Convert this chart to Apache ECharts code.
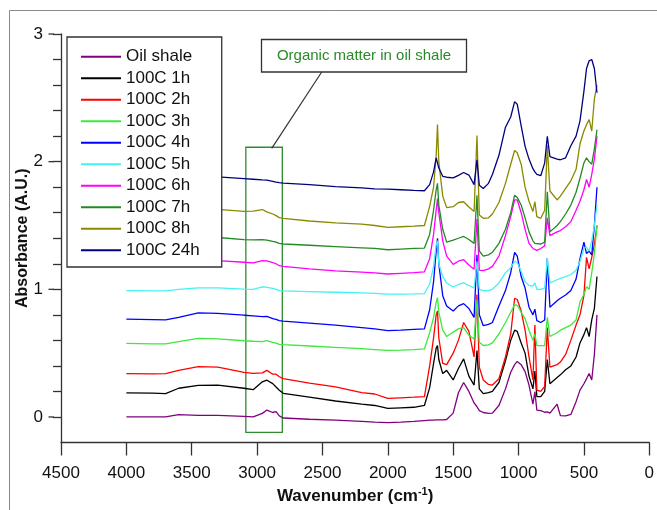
<!DOCTYPE html>
<html><head><meta charset="utf-8">
<script src="https://cdn.jsdelivr.net/npm/echarts@6/dist/echarts.min.js"></script>
<style>html,body{margin:0;padding:0;background:#fff}#c{width:657px;height:510px}</style>
</head><body><div id="c"></div>
<script>
// ---- data ----
const wavenumbers = [4000,3800,3700,3600,3450,3300,3100,3030,2960,2925,2880,2855,2830,2800,2600,2400,2200,2100,2000,1900,1800,1720,1680,1650,1630,1620,1610,1580,1550,1500,1460,1420,1380,1340,1318,1300,1270,1230,1200,1150,1100,1060,1030,1010,980,950,920,890,875,860,830,800,780,760,705,680,640,600,560,530,500,480,460,440,420,400];

const oilShale = [0.0,0.0,0.0,0.018,0.012,0.012,0.005,0.0,0.028,0.054,
  0.035,0.042,0.008,-0.008,-0.018,-0.025,-0.035,-0.04,-0.044,-0.04,
  -0.035,-0.028,-0.025,-0.024,-0.023,-0.023,-0.022,-0.022,-0.02,0.03,
  0.19,0.27,0.20,0.11,0.08,0.05,0.035,0.028,0.03,0.09,
  0.22,0.35,0.41,0.435,0.41,0.355,0.25,0.10,0.197,0.054,
  0.05,0.037,0.04,0.03,0.10,0.01,0.008,0.02,0.12,0.21,
  0.26,0.30,0.34,0.29,0.49,0.80];
const h1 = [0.189,0.186,0.183,0.225,0.248,0.25,0.225,0.214,0.275,0.288,
  0.261,0.235,0.21,0.185,0.155,0.125,0.10,0.09,0.067,0.072,
  0.076,0.09,0.23,0.42,0.54,0.56,0.45,0.34,0.365,0.29,
  0.38,0.455,0.32,0.25,0.52,0.22,0.183,0.19,0.20,0.27,
  0.44,0.60,0.68,0.67,0.58,0.50,0.32,0.22,0.36,0.16,
  0.16,0.20,0.45,0.26,0.31,0.33,0.37,0.40,0.47,0.58,
  0.645,0.70,0.63,0.76,0.85,1.10];
const h2 = [0.339,0.338,0.339,0.365,0.395,0.391,0.35,0.342,0.345,0.365,
  0.335,0.335,0.315,0.30,0.265,0.235,0.19,0.18,0.145,0.15,
  0.155,0.16,0.40,0.62,0.80,0.83,0.62,0.42,0.41,0.50,
  0.60,0.74,0.67,0.47,0.96,0.39,0.29,0.255,0.25,0.30,
  0.47,0.65,0.93,0.92,0.83,0.68,0.47,0.29,0.72,0.21,
  0.20,0.24,0.70,0.39,0.41,0.43,0.49,0.60,0.72,0.80,
  0.95,1.25,1.16,1.25,1.35,1.50];
const h3 = [0.577,0.572,0.572,0.59,0.615,0.612,0.597,0.593,0.59,0.598,
  0.585,0.578,0.568,0.566,0.556,0.545,0.535,0.528,0.521,0.524,
  0.528,0.533,0.66,0.78,0.90,0.935,0.82,0.68,0.63,0.665,
  0.69,0.70,0.64,0.61,0.92,0.585,0.56,0.565,0.58,0.65,
  0.74,0.82,0.88,0.875,0.82,0.77,0.68,0.60,0.65,0.56,
  0.559,0.56,0.78,0.63,0.66,0.68,0.70,0.72,0.76,0.90,
  0.96,1.02,1.00,1.13,1.28,1.50];
const h4 = [0.766,0.762,0.760,0.78,0.815,0.812,0.797,0.792,0.786,0.788,
  0.77,0.765,0.755,0.75,0.735,0.72,0.70,0.69,0.676,0.68,
  0.686,0.69,0.84,1.06,1.30,1.40,1.20,0.95,0.87,0.83,
  0.87,0.888,0.85,0.78,1.271,0.80,0.715,0.725,0.74,0.87,
  0.99,1.13,1.29,1.26,1.10,1.01,0.86,0.80,0.844,0.754,
  0.74,0.76,1.245,0.86,0.91,0.93,0.955,0.99,1.08,1.24,
  1.37,1.28,1.30,1.27,1.50,1.80];
const h5 = [0.99,0.988,0.988,1.00,1.012,1.012,1.002,0.999,1.02,1.015,
  1.008,1.0,0.99,0.987,0.982,0.977,0.972,0.968,0.962,0.963,
  0.965,0.967,1.04,1.18,1.35,1.38,1.20,1.10,1.05,1.018,
  1.038,1.05,1.03,1.01,1.22,1.0,0.99,0.99,1.0,1.05,
  1.13,1.17,1.22,1.21,1.14,1.06,1.03,1.025,1.05,1.0,
  1.0,1.01,1.245,1.05,1.075,1.085,1.10,1.116,1.15,1.22,
  1.32,1.33,1.30,1.38,1.50,1.66];
const h6 = [1.19,1.19,1.195,1.21,1.222,1.225,1.212,1.207,1.225,1.222,
  1.21,1.20,1.185,1.18,1.16,1.145,1.135,1.128,1.12,1.125,
  1.13,1.137,1.24,1.43,1.62,1.71,1.60,1.38,1.26,1.195,
  1.22,1.232,1.19,1.158,1.55,1.15,1.147,1.16,1.18,1.26,
  1.42,1.57,1.70,1.70,1.60,1.47,1.36,1.32,1.31,1.305,
  1.32,1.34,1.56,1.42,1.45,1.46,1.49,1.53,1.62,1.69,
  1.78,1.86,1.80,1.90,2.02,2.20];
const h7 = [1.42,1.415,1.41,1.41,1.408,1.406,1.39,1.388,1.39,1.385,
  1.375,1.37,1.36,1.355,1.345,1.335,1.325,1.32,1.31,1.315,
  1.32,1.323,1.43,1.62,1.78,1.83,1.66,1.47,1.37,1.385,
  1.40,1.414,1.39,1.36,1.737,1.30,1.26,1.27,1.29,1.36,
  1.47,1.60,1.737,1.72,1.66,1.56,1.45,1.38,1.36,1.36,
  1.355,1.37,1.764,1.45,1.50,1.53,1.59,1.66,1.76,1.87,
  1.99,2.03,2.00,1.98,2.10,2.25];
const h8 = [1.64,1.635,1.63,1.63,1.628,1.626,1.61,1.612,1.625,1.607,
  1.59,1.577,1.562,1.555,1.535,1.52,1.51,1.50,1.485,1.49,
  1.495,1.50,1.65,1.80,2.05,2.29,2.0,1.73,1.64,1.647,
  1.68,1.686,1.645,1.61,2.204,1.582,1.556,1.56,1.59,1.68,
  1.83,1.98,2.087,2.07,1.98,1.80,1.69,1.61,1.686,1.57,
  1.556,1.62,2.126,1.77,1.70,1.73,1.79,1.85,1.94,2.14,
  2.24,2.29,2.33,2.24,2.49,2.60];
const h24 = [1.90,1.895,1.89,1.885,1.882,1.88,1.867,1.862,1.857,1.855,
  1.846,1.84,1.836,1.832,1.82,1.805,1.795,1.787,1.785,1.78,
  1.775,1.772,1.82,1.92,2.03,2.04,1.95,1.885,1.878,1.873,
  1.893,1.915,1.895,1.82,2.015,1.815,1.79,1.83,1.90,2.05,
  2.27,2.35,2.47,2.45,2.28,2.12,2.02,1.945,1.92,1.90,
  1.89,1.99,2.199,2.04,2.02,2.015,2.03,2.125,2.20,2.32,
  2.55,2.73,2.79,2.80,2.73,2.54];

const seriesNames = ['Oil shale','100C 1h','100C 2h','100C 3h','100C 4h','100C 5h','100C 6h','100C 7h','100C 8h','100C 24h'];
const seriesValues = [oilShale,h1,h2,h3,h4,h5,h6,h7,h8,h24];
const xTicks = [0,500,1000,1500,2000,2500,3000,3500,4000,4500];
const yMajorTicks = [0,1,2,3];
const yMinorTicks = [0.2,0.4,0.6,0.8,1.2,1.4,1.6,1.8,2.2,2.4,2.6,2.8];
const annotationText = 'Organic matter in oil shale';
const organicBand = {fromWn:3086, toWn:2807, low:-0.12, high:2.113};

// ---- styling ----
const FONT = '"Liberation Sans", Arial, Helvetica, sans-serif';
const colors = ['#800080','#000000','#ff0000','#3ee83e','#0000ff','#44f2f2','#ff00ff','#228b22','#8a8a00','#000080'];
const AX = '#333';
const X_MAX = 4500, Y_MIN = -0.2, Y_MAX = 3;
const GRID = {left: 61, right: 5, top: 34, bottom: 64.3};
const allYTicks = yMajorTicks.concat(yMinorTicks).sort((a, b) => a - b);

const series = seriesNames.map((name, i) => {
  const s = {
    name, type: 'line', symbol: 'none', showSymbol: false,
    data: wavenumbers.map((w, j) => [w, seriesValues[i][j]]),
    lineStyle: {color: colors[i], width: 1.3},
    itemStyle: {color: colors[i]},
    emphasis: {disabled: true},
    z: 2 + i
  };
  if (i === 0) {
    s.markArea = {
      silent: true,
      itemStyle: {color: 'rgba(0,0,0,0)', borderColor: '#2e8b2e', borderWidth: 1.3},
      label: {show: false},
      data: [[{coord: [organicBand.fromWn, organicBand.high]}, {coord: [organicBand.toWn, organicBand.low]}]]
    };
  }
  return s;
});

const baseGraphic = [
  {id: 'frame', type: 'rect', silent: true, z: -10, shape: {x: 9.5, y: 10.5, width: 700, height: 600},
    style: {fill: null, stroke: '#8a8a8a', lineWidth: 1}},
  {id: 'leader', type: 'line', silent: true, z: 30, shape: {x1: 271.7, y1: 148.3, x2: 321.7, y2: 72},
    style: {stroke: AX, lineWidth: 1.2}},
  {id: 'noteBox', type: 'rect', silent: true, z: 30, shape: {x: 261.5, y: 39.5, width: 205, height: 32.5},
    style: {fill: '#fff', stroke: AX, lineWidth: 1.3}},
  {id: 'noteText', type: 'text', silent: true, z: 31, x: 364, y: 56,
    style: {text: annotationText, fill: '#2a8a2a', font: '15px ' + FONT, align: 'center', verticalAlign: 'middle'}}
];

const chart = echarts.init(document.getElementById('c'), null, {renderer: 'canvas'});
chart.setOption({
  animation: false,
  backgroundColor: '#fff',
  grid: Object.assign({containLabel: false}, GRID),
  xAxis: {
    type: 'value', min: 0, max: X_MAX, interval: 500, inverse: true,
    axisLine: {show: true, onZero: false, lineStyle: {color: AX, width: 1.3}},
    axisTick: {show: true, length: 13, lineStyle: {color: AX, width: 1.3}},
    axisLabel: {fontSize: 17, color: '#111', margin: 22, fontFamily: FONT, showMinLabel: true, showMaxLabel: true,
      customValues: xTicks, formatter: v => String(v)},
    splitLine: {show: false},
    name: '{b|Wavenumber (cm}{sup|-1}{b|)}',
    nameLocation: 'middle', nameGap: 44,
    nameTextStyle: {fontFamily: FONT, rich: {
      b: {fontSize: 17, fontWeight: 'bold', color: '#111', fontFamily: FONT, lineHeight: 20},
      sup: {fontSize: 11, fontWeight: 'bold', color: '#111', fontFamily: FONT, verticalAlign: 'top', lineHeight: 12}
    }}
  },
  yAxis: {
    type: 'value', min: Y_MIN, max: Y_MAX, position: 'left',
    axisLine: {show: true, onZero: false, lineStyle: {color: AX, width: 1.3}},
    // every tick (major + minor) drawn by the axis at minor length; majors are lengthened below
    axisTick: {show: true, length: 8, customValues: allYTicks, lineStyle: {color: AX, width: 1.3}},
    axisLabel: {fontSize: 17, color: '#111', margin: 18, fontFamily: FONT, customValues: yMajorTicks},
    splitLine: {show: false},
    name: 'Absorbance (A.U.)', nameLocation: 'middle', nameGap: 30, nameRotate: 90,
    nameMoveOverlap: false,
    nameTextStyle: {fontSize: 16, fontWeight: 'bold', color: '#111', fontFamily: FONT}
  },
  legend: {
    orient: 'vertical', left: 67, top: 37,
    padding: [9, 22, 6, 14], itemWidth: 40, itemHeight: 1.8, itemGap: 0,
    icon: 'rect',
    backgroundColor: '#fff', borderColor: AX, borderWidth: 1.3, borderRadius: 0,
    textStyle: {fontSize: 17, color: '#111', lineHeight: 21.5, fontFamily: FONT},
    data: seriesNames, selectedMode: false, z: 20
  },
  graphic: baseGraphic,
  series: series
});

// lengthen the major y ticks (12 px instead of 8 px)
(function () {
  const plotH = 510 - GRID.top - GRID.bottom;
  function yPix(v) {
    let p = NaN;
    try { p = chart.convertToPixel({yAxisIndex: 0}, v); } catch (e) { p = NaN; }
    if (Array.isArray(p)) p = p[1];
    if (typeof p !== 'number' || !isFinite(p)) {
      p = GRID.top + (Y_MAX - v) / (Y_MAX - Y_MIN) * plotH;
    }
    return p;
  }
  const ext = yMajorTicks.map((v, k) => {
    const y = yPix(v);
    return {id: 'majorExt' + k, type: 'line', silent: true, z: 40,
      shape: {x1: GRID.left - 12.5, y1: y, x2: GRID.left - 7, y2: y},
      style: {stroke: AX, lineWidth: 1.3}};
  });
  chart.setOption({graphic: baseGraphic.concat(ext)});
})();
</script>
</body></html>
